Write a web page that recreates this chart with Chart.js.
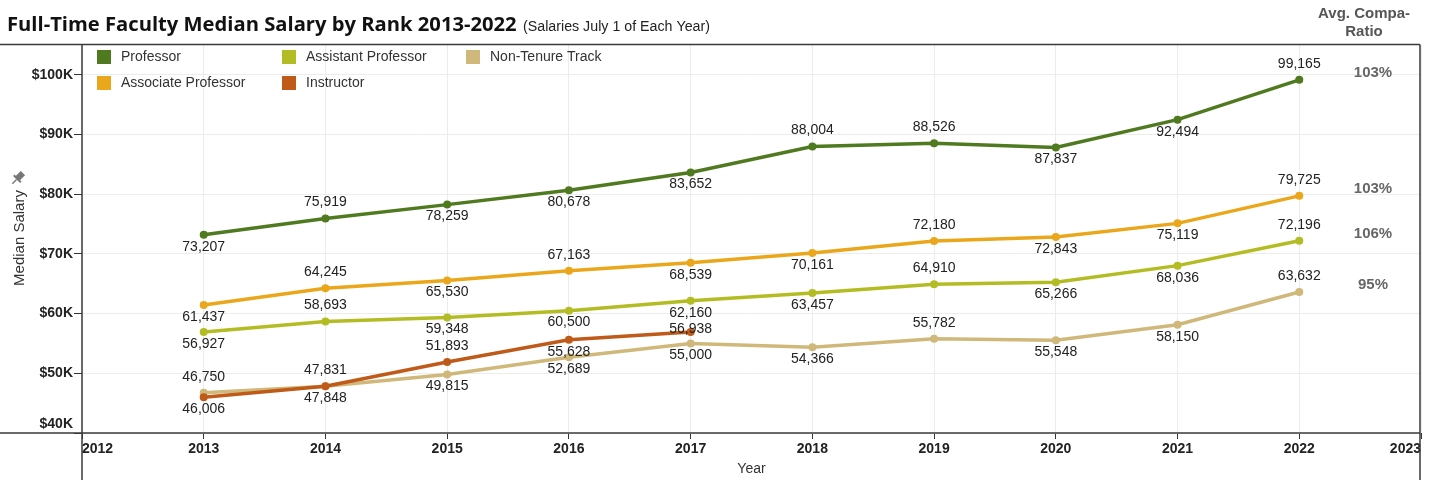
<!DOCTYPE html>
<html><head><meta charset="utf-8">
<script src="https://cdn.jsdelivr.net/npm/chart.js@4/dist/chart.umd.min.js"></script>
<style>html,body{margin:0;padding:0;background:#fff;overflow:hidden}#wrap{width:1435px;height:480px}</style>
</head><body><div id="wrap"><canvas id="c" width="1435" height="480"></canvas></div>
<script>
const years = [2013, 2014, 2015, 2016, 2017, 2018, 2019, 2020, 2021, 2022];
const instructorYears = [2013, 2014, 2015, 2016, 2017];
const professor = [73207, 75919, 78259, 80678, 83652, 88004, 88526, 87837, 92494, 99165];
const associate = [61437, 64245, 65530, 67163, 68539, 70161, 72180, 72843, 75119, 79725];
const assistant = [56927, 58693, 59348, 60500, 62160, 63457, 64910, 65266, 68036, 72196];
const instructor = [46006, 47848, 51893, 55628, 56938];
const nonTenure = [46750, 47831, 49815, 52689, 55000, 54366, 55782, 55548, 58150, 63632];
const seriesNames = ['Professor', 'Associate Professor', 'Assistant Professor', 'Instructor', 'Non-Tenure Track'];
const compaRatio = ['103%', '103%', '106%', null, '95%'];
const yTickValues = [40000, 50000, 60000, 70000, 80000, 90000, 100000];
const xTickValues = [2012, 2013, 2014, 2015, 2016, 2017, 2018, 2019, 2020, 2021, 2022, 2023];
// label placement: a = above, b = below, o = on point
const professorLabelPos = ['b','a','b','b','b','a','a','b','b','a'];
const associateLabelPos = ['b','a','b','a','b','b','a','b','b','a'];
const assistantLabelPos = ['b','a','b','b','b','b','a','b','b','a'];
const instructorLabelPos = ['b','b','a','b','o'];
const nonTenureLabelPos = ['a','a','b','b','b','b','a','b','b','a'];

const colors = ['#4f7a1f', '#eba71b', '#b3bd23', '#bf5a18', '#cfb879'];
const seriesData = [professor, associate, assistant, instructor, nonTenure];
const seriesYears = [years, years, years, instructorYears, years];
const labelPos = [professorLabelPos, associateLabelPos, assistantLabelPos, instructorLabelPos, nonTenureLabelPos];

const datasets = seriesData.map((vals, i) => ({
  label: seriesNames[i],
  data: vals.map((v, j) => ({x: seriesYears[i][j], y: v})),
  borderColor: colors[i],
  backgroundColor: colors[i],
  pointBackgroundColor: colors[i],
  pointBorderWidth: 0,
  pointRadius: 4,
  borderWidth: 3.5,
  tension: 0,
  clip: false
}));

const FONT = '"Liberation Sans", Arial, sans-serif';

function fitFont(ctx, text, weight, family, target) {
  ctx.font = weight + ' 10px ' + family;
  const w = ctx.measureText(text).width;
  const size = 10 * target / w;
  ctx.font = weight + ' ' + size.toFixed(2) + 'px ' + family;
}

const decor = {
  id: 'decor',
  afterDraw(chart) {
    const ctx = chart.ctx;
    const ca = chart.chartArea;
    const ys = chart.scales.y;
    ctx.save();
    // frame lines
    ctx.strokeStyle = '#3a3a3a';
    ctx.lineWidth = 1.5;
    ctx.beginPath();
    ctx.moveTo(0, ca.top - 0.5); ctx.lineTo(ca.right - 1, ca.top - 0.5);
    ctx.moveTo(0, ca.bottom); ctx.lineTo(ca.right - 1, ca.bottom);
    ctx.moveTo(ca.left, ca.top - 0.5); ctx.lineTo(ca.left, chart.height);
    ctx.moveTo(ca.right - 1, ca.top - 0.5); ctx.lineTo(ca.right - 1, chart.height);
    ctx.stroke();

    // title
    ctx.fillStyle = '#111';
    ctx.textBaseline = 'alphabetic';
    ctx.textAlign = 'left';
    const t = 'Full-Time Faculty Median Salary by Rank 2013-2022';
    fitFont(ctx, t, 'bold', '"Open Sans", sans-serif', 510);
    ctx.fillText(t, 7, 31);
    const st = '(Salaries July 1 of Each Year)';
    fitFont(ctx, st, 'normal', FONT, 187);
    ctx.fillStyle = '#222';
    ctx.fillText(st, 523, 31);

    // compa header
    ctx.font = 'bold 15px ' + FONT;
    ctx.fillStyle = '#555';
    ctx.textAlign = 'center';
    ctx.textBaseline = 'middle';
    ctx.fillText('Avg. Compa-', 1364, 14);
    ctx.fillText('Ratio', 1364, 32);

    // compa ratios
    ctx.font = 'bold 15px ' + FONT;
    ctx.fillStyle = '#666';
    seriesData.forEach((vals, i) => {
      if (!compaRatio[i]) return;
      const y = ys.getPixelForValue(vals[vals.length - 1]) - 7;
      ctx.fillText(compaRatio[i], 1373, y);
    });

    // legend
    const legendSlots = [[97, 57], [97, 83], [282, 57], [282, 83], [466, 57]];
    ctx.font = '14px ' + FONT;
    ctx.textAlign = 'left';
    ctx.textBaseline = 'middle';
    seriesNames.forEach((n, i) => {
      const [lx, ly] = legendSlots[i];
      ctx.fillStyle = colors[i];
      ctx.fillRect(lx, ly - 7, 14, 14);
      ctx.fillStyle = '#333';
      ctx.fillText(n, lx + 24, ly);
    });

    // y title
    ctx.save();
    ctx.translate(20, 238);
    ctx.rotate(-Math.PI / 2);
    ctx.font = '15px ' + FONT;
    ctx.fillStyle = '#333';
    ctx.textAlign = 'center';
    ctx.fillText('Median Salary', 0, 0);
    ctx.restore();

    // pin icon
    ctx.save();
    ctx.translate(18, 178);
    ctx.rotate(Math.PI / 4);
    ctx.fillStyle = '#777';
    ctx.fillRect(-3, -7, 6, 8);
    ctx.fillRect(-5, 0, 10, 2);
    ctx.fillRect(-0.7, 2, 1.4, 6);
    ctx.restore();
    ctx.restore();
  },
  afterDatasetsDraw(chart) {
    const ctx = chart.ctx;
    ctx.save();
    ctx.font = '14px ' + FONT;
    ctx.fillStyle = '#222';
    ctx.textAlign = 'center';
    ctx.textBaseline = 'middle';
    chart.data.datasets.forEach((ds, i) => {
      const meta = chart.getDatasetMeta(i);
      meta.data.forEach((pt, j) => {
        const p = labelPos[i][j];
        const off = p === 'a' ? -16 : p === 'b' ? 12 : -3;
        ctx.fillText(seriesData[i][j].toLocaleString('en-US'), pt.x, pt.y + off);
      });
    });
    ctx.restore();
  }
};

new Chart(document.getElementById('c'), {
  type: 'line',
  data: {datasets},
  options: {
    responsive: false,
    animation: false,
    layout: {padding: {top: 45, right: 14, left: 0, bottom: 0}},
    plugins: {legend: {display: false}, tooltip: {enabled: false}, title: {display: false}},
    scales: {
      x: {
        type: 'linear', min: 2012, max: 2023,
        afterBuildTicks: s => { s.ticks = xTickValues.map(v => ({value: v})); },
        afterFit: s => { s.height = 47; },
        ticks: {callback: v => String(v), align: 'inner', color: '#222', font: {family: FONT, size: 14, weight: 'bold'}, padding: 2, maxRotation: 0, autoSkip: false},
        grid: {color: '#ececec', tickColor: '#333', tickLength: 6, lineWidth: 1},
        border: {display: false},
        title: {display: true, text: 'Year', color: '#333', font: {family: FONT, size: 14}, padding: {top: 0, bottom: 2}}
      },
      y: {
        min: 40000, max: 105000,
        afterBuildTicks: s => { s.ticks = yTickValues.map(v => ({value: v})); },
        afterFit: s => { s.width = 82; },
        ticks: {callback: v => v === 40000 ? ['$40K', ''] : '$' + (v / 1000) + 'K', color: '#222', font: {family: FONT, size: 14, weight: 'bold'}, padding: 1, autoSkip: false},
        grid: {color: '#ececec', tickColor: '#333', tickLength: 8, lineWidth: 1},
        border: {display: false}
      }
    }
  },
  plugins: [decor]
});
</script>
</body></html>
